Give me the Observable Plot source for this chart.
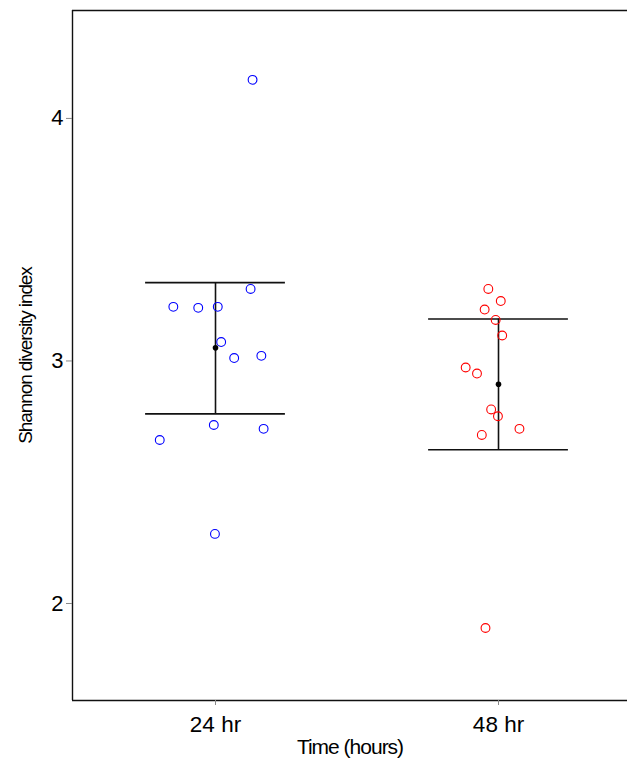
<!DOCTYPE html>
<html>
<head>
<meta charset="utf-8">
<script src="https://cdn.jsdelivr.net/npm/d3@7"></script>
<script src="https://cdn.jsdelivr.net/npm/@observablehq/plot@0.6"></script>
<style>
  html, body { margin: 0; padding: 0; background: #fff; overflow: hidden; }
  #chart { width: 627px; height: 761px; overflow: hidden; }
  #chart svg { display: block; max-width: none !important; }
</style>
</head>
<body>
<div id="chart"></div>
<script>
// Groups (categories) and tick labels
const groups = ["24 hr", "48 hr"];
const groupColors = ["#0000ff", "#ff0000"];
const yTicks = [2, 3, 4];

// Individual Shannon diversity values and horizontal jitter (in group units)
const values24 = [4.159, 3.223, 3.219, 3.223, 3.297, 3.078, 3.012, 3.021, 2.674, 2.736, 2.720, 2.287];
const jitter24 = [0.131, -0.149, -0.061, 0.008, 0.124, 0.020, 0.066, 0.162, -0.197, -0.006, 0.170, -0.002];
const values48 = [3.297, 3.247, 3.212, 3.169, 3.105, 2.973, 2.948, 2.800, 2.772, 2.720, 2.695, 1.899];
const jitter48 = [-0.036, 0.008, -0.049, -0.010, 0.013, -0.116, -0.076, -0.026, -0.002, 0.074, -0.059, -0.046];

// Summary: mean and error bar limits
const means = [3.054, 2.904];
const upper = [3.323, 3.173];
const lower = [2.782, 2.634];

const xDomain = [0.4947, 2.4558];
const yDomain = [1.6, 4.445];
const capHalf = 0.247;

const points = [
  ...values24.map((v, i) => ({g: 1, x: 1 + jitter24[i], y: v, c: groupColors[0]})),
  ...values48.map((v, i) => ({g: 2, x: 2 + jitter48[i], y: v, c: groupColors[1]}))
];
const summary = groups.map((name, i) => ({g: i + 1, mean: means[i], hi: upper[i], lo: lower[i]}));

const font = "'Liberation Sans', Arial, Helvetica, sans-serif";

const chart = Plot.plot({
  width: 640,
  height: 761,
  marginLeft: 72,
  marginRight: 13,
  marginTop: 10,
  marginBottom: 61,
  style: {fontFamily: font, background: "#fff", color: "#000"},
  x: {domain: xDomain, axis: null},
  y: {domain: yDomain, axis: null},
  marks: [
    Plot.ruleX([xDomain[0]], {stroke: "#111", strokeWidth: 1.4}),
    Plot.ruleY([yDomain[0]], {stroke: "#111", strokeWidth: 1.4}),
    Plot.ruleY([yDomain[1]], {stroke: "#111", strokeWidth: 1.4}),
    Plot.axisY({
      ticks: yTicks, tickSize: 6, tickPadding: 3, fontSize: 22,
      label: null, tickFormat: d => String(d)
    }),
    Plot.axisX({
      ticks: [1, 2], tickSize: 5, tickPadding: 11, fontSize: 22.5,
      label: null, tickFormat: d => groups[d - 1]
    }),
    Plot.ruleX(summary, {x: "g", y1: "lo", y2: "hi", stroke: "#111", strokeWidth: 1.6}),
    Plot.ruleY(summary, {y: "hi", x1: d => d.g - capHalf, x2: d => d.g + capHalf, stroke: "#111", strokeWidth: 1.6}),
    Plot.ruleY(summary, {y: "lo", x1: d => d.g - capHalf, x2: d => d.g + capHalf, stroke: "#111", strokeWidth: 1.6}),
    Plot.dot(points, {x: "x", y: "y", r: 4.4, stroke: "c", strokeWidth: 1.1, fill: "none"}),
    Plot.dot(summary, {x: "g", y: "mean", r: 2.8, fill: "#000", stroke: "none"}),
    Plot.text(["Time (hours)"], {
      frameAnchor: "bottom", dy: 47, fontSize: 21, text: d => d,
      textAnchor: "middle", lineAnchor: "middle", fill: "#000"
    }),
    Plot.text(["Shannon diversity index"], {
      frameAnchor: "left", dx: -47, rotate: -90, fontSize: 19, text: d => d,
      textAnchor: "middle", lineAnchor: "middle", fill: "#000"
    })
  ]
});

chart.querySelectorAll("text").forEach(t => {
  const s = t.textContent;
  if (s === "Time (hours)") t.setAttribute("letter-spacing", "-1");
  if (s === "Shannon diversity index") t.setAttribute("letter-spacing", "-1.1");
});
chart.querySelectorAll('g[aria-label="y-axis tick"], g[aria-label="x-axis tick"]').forEach(g => {
  g.setAttribute("stroke", "#888");
  g.querySelectorAll("path, line").forEach(p => p.setAttribute("stroke", "#888"));
});

document.getElementById("chart").appendChild(chart);
</script>
</body>
</html>
